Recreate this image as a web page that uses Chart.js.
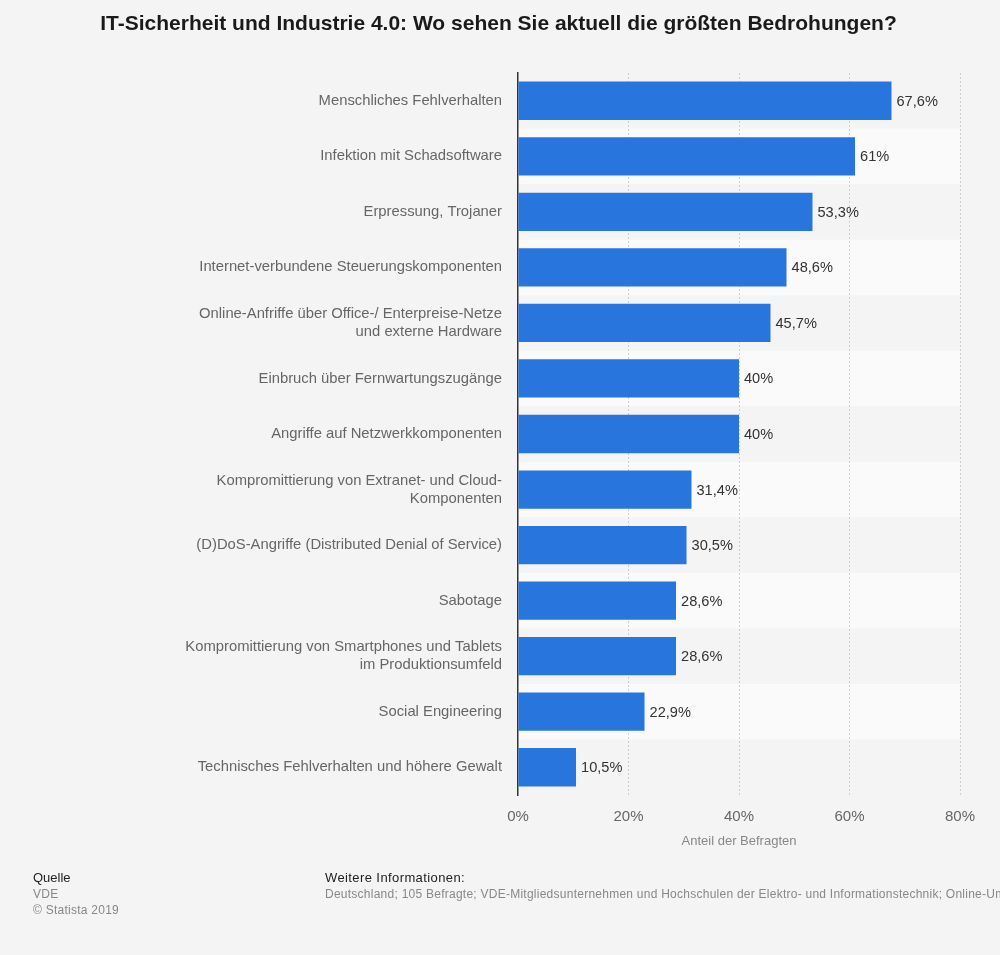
<!DOCTYPE html>
<html>
<head>
<meta charset="utf-8">
<script src="https://cdn.jsdelivr.net/npm/chart.js@4"></script>
<style>
    html, body { margin: 0; padding: 0; background: #f4f4f4; overflow: hidden; }
    #wrap { position: relative; width: 1000px; height: 955px; }
    #title { position: absolute; left: 0; width: 997px; top: 10px; text-align: center; font-family: "Liberation Sans", Arial, sans-serif; font-weight: bold; font-size: 21px; line-height: 25px; color: #1a1a1a; white-space: nowrap; }
    .foot { position: absolute; font-family: "Liberation Sans", Arial, sans-serif; white-space: nowrap; font-size: 12px; line-height: 16px; }
    .foot .head { color: #222; font-size: 13px; }
    .foot .txt { color: #888; letter-spacing: 0.25px; }
</style>
</head>
<body>
<div id="wrap">
    <canvas id="myChart" width="1000" height="955"></canvas>
    <div id="title">IT-Sicherheit und Industrie 4.0: Wo sehen Sie aktuell die größten Bedrohungen?</div>
    <div class="foot" style="left:33px; top:870px;">
        <div class="head">Quelle</div>
        <div class="txt">VDE</div>
        <div class="txt">© Statista 2019</div>
    </div>
    <div class="foot" style="left:325px; top:870px;">
        <div class="head" style="letter-spacing:0.4px">Weitere Informationen:</div>
        <div class="txt">Deutschland; 105 Befragte; VDE-Mitgliedsunternehmen und Hochschulen der Elektro- und Informationstechnik; Online-Umfrage</div>
    </div>
</div>
<script>
const categories = [
    'Menschliches Fehlverhalten',
    'Infektion mit Schadsoftware',
    'Erpressung, Trojaner',
    'Internet-verbundene Steuerungskomponenten',
    ['Online-Anfriffe über Office-/ Enterpreise-Netze', 'und externe Hardware'],
    'Einbruch über Fernwartungszugänge',
    'Angriffe auf Netzwerkkomponenten',
    ['Kompromittierung von Extranet- und Cloud-', 'Komponenten'],
    '(D)DoS-Angriffe (Distributed Denial of Service)',
    'Sabotage',
    ['Kompromittierung von Smartphones und Tablets', 'im Produktionsumfeld'],
    'Social Engineering',
    'Technisches Fehlverhalten und höhere Gewalt'
];

const shares = [67.6, 61, 53.3, 48.6, 45.7, 40, 40, 31.4, 30.5, 28.6, 28.6, 22.9, 10.5];

const xTicks = [0, 20, 40, 60, 80];

const fontFam = '"Liberation Sans", Arial, sans-serif';

// alternating row stripes, drawn before the grid
const stripes = {
    id: 'stripes',
    beforeDraw(chart) {
        const {ctx, chartArea} = chart;
        const y = chart.scales.y;
        const band = (chartArea.bottom - chartArea.top) / categories.length;
        ctx.save();
        ctx.fillStyle = '#fafafa';
        categories.forEach((c, i) => {
            if (i % 2 === 1) {
                const cy = y.getPixelForValue(i);
                ctx.fillRect(chartArea.left, cy - band / 2, chartArea.right - chartArea.left, band);
            }
        });
        ctx.restore();
    }
};

// value labels to the right of each bar
const valueLabels = {
    id: 'valueLabels',
    afterDatasetsDraw(chart) {
        const {ctx} = chart;
        const meta = chart.getDatasetMeta(0);
        ctx.save();
        ctx.font = '14.6px ' + fontFam;
        ctx.fillStyle = '#333';
        ctx.textAlign = 'left';
        ctx.textBaseline = 'middle';
        meta.data.forEach((bar, i) => {
            const txt = String(shares[i]).replace('.', ',') + '%';
            ctx.fillText(txt, bar.x + 5, bar.y + 1);
        });
        ctx.restore();
    }
};

new Chart('myChart', {
    type: 'bar',
    data: {
        labels: categories,
        datasets: [{
            data: shares,
            backgroundColor: '#2876dd',
            borderWidth: 0,
            categoryPercentage: 1,
            barPercentage: 0.69
        }]
    },
    options: {
        indexAxis: 'y',
        responsive: false,
        animation: false,
        layout: { padding: { left: 0, right: 40, top: 73, bottom: 106 } },
        plugins: {
            legend: { display: false },
            tooltip: { enabled: false },
            title: { display: false }
        },
        scales: {
            x: {
                min: 0,
                max: 80,
                afterBuildTicks: (scale) => { scale.ticks = xTicks.map(v => ({ value: v })); },
                afterFit: (scale) => { scale.height = 54; },
                ticks: {
                    padding: 13,
                    color: '#666',
                    font: { family: fontFam, size: 15 },
                    callback: (v) => v + '%'
                },
                grid: {
                    drawTicks: false,
                    color: (ctx) => ctx.tick && ctx.tick.value === 0 ? 'rgba(0,0,0,0)' : '#cfcfcf',
                    lineWidth: 1
                },
                border: { display: false, dash: [2, 2] },
                title: {
                    display: true,
                    text: 'Anteil der Befragten',
                    color: '#888',
                    font: { family: fontFam, size: 13 },
                    padding: { top: 0, bottom: 0 }
                }
            },
            y: {
                afterFit: (scale) => { scale.width = 518; },
                ticks: {
                    padding: 16,
                    color: '#666',
                    font: { family: fontFam, size: 14.8, lineHeight: 1.22 },
                    autoSkip: false
                },
                grid: { display: false, drawTicks: false },
                border: { display: true, color: '#333', width: 1.5 }
            }
        }
    },
    plugins: [stripes, valueLabels]
});
</script>
</body>
</html>
